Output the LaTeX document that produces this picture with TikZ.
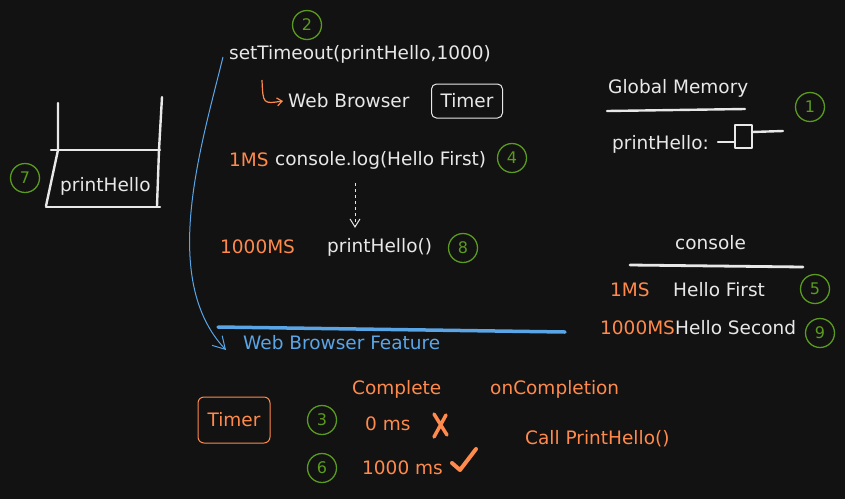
\documentclass[tikz,border=0pt]{standalone}
\usepackage{fontspec}
\setmainfont{DejaVu Sans}
\usetikzlibrary{arrows.meta,positioning,calc}
\definecolor{bgcolor}{HTML}{121212}
\definecolor{chalk}{HTML}{E8E8E8}
\definecolor{tangerine}{HTML}{FF8A4C}
\definecolor{moss}{HTML}{5A9A1E}
\definecolor{sky}{HTML}{5AA5E6}

\begin{document}
\begin{tikzpicture}[x=1pt,y=-1pt,
    txt/.style={text=chalk, font=\fontsize{18.5}{20}\selectfont, inner sep=0pt, anchor=west},
    hot/.style={txt, text=tangerine},
    badge/.style={circle, draw=moss, line width=1.3pt, minimum size=29pt, inner sep=0pt,
      text=moss, font=\fontsize{16}{18}\selectfont},
    pen/.style={chalk, line width=2.4pt, line cap=round, line join=round}]
    % Background
    \fill[bgcolor] (0,0) rectangle (845,499);
    \useasboundingbox (0,0) rectangle (845,499);
    % Call stack
    \draw[pen] (58,103) -- (58,150) -- (46,206);
    \draw[pen] (162,97) -- (159,150) -- (157,206);
    \draw[pen] (46,207) -- (160,207);
    \draw[pen] (51,150) -- (160,150);
    \node[txt] (stackfn) at (60,186) {printHello};
    \node[badge] (b7) at (25,178) {7};
    % Code lines
    \node[badge] (b2) at (307,25) {2};
    \node[txt] (settimeout) at (229,54) {setTimeout(printHello,1000)};
    \node[txt] (browser) at (288,101) {Web Browser};
    \node[txt, draw=chalk, line width=1pt, rounded corners=5pt, minimum width=71pt,
      minimum height=34pt, anchor=center, align=center] (timer) at (467,101) {Timer};
    \node[hot] (ms1) at (229,160) {1MS};
    \node[txt] (log) at (275,160) {console.log(Hello First)};
    \node[badge] (b4) at (512,158) {4};
    \node[hot] (ms1000) at (220,247) {1000MS};
    \node[txt] (call) at (327,247) {printHello()};
    \node[badge] (b8) at (463,248) {8};
    % Global memory
    \node[txt] (global) at (608,88) {Global Memory};
    \draw[pen] (607,111) -- (745,109);
    \node[badge] (b1) at (810,107) {1};
    \node[txt] (mem) at (612,144) {printHello:};
    \draw[pen] (718,142) -- (735,142);
    \draw[pen] (735,125) rectangle (752,148);
    \draw[pen] (752,132) -- (783,131);
    % Console
    \node[txt] (console) at (675,243) {console};
    \draw[pen, line width=2.8pt] (630,265) -- (803,267);
    \node[hot] (out1ms) at (610,290) {1MS};
    \node[txt] (out1) at (673,290) {Hello First};
    \node[badge] (b5) at (815,289) {5};
    \node[hot] (out2ms) at (600,328) {1000MS};
    \node[txt] (out2) at (675,328) {Hello Second};
    \node[badge] (b9) at (820,333) {9};
    % Web browser feature
    \draw[sky, line width=3.5pt, line cap=round] (218,327) -- (565,332);
    \node[txt, text=sky] (feature) at (243,343) {Web Browser Feature};
    \node[hot, draw=tangerine, line width=1pt, rounded corners=6pt, minimum width=72pt,
      minimum height=46pt, anchor=center] (webtimer) at (234,420) {Timer};
    \node[badge] (b3) at (322,420) {3};
    \node[badge] (b6) at (322,468) {6};
    \node[hot] (complete) at (352,389) {Complete};
    \node[hot] (oncomp) at (490,389) {onCompletion};
    \node[hot] (zero) at (365,424) {0 ms};
    \node[hot] (thousand) at (362,468) {1000 ms};
    \node[hot] (callback) at (525,439) {Call PrintHello()};
    \draw[tangerine, line width=3.5pt, line cap=round] (434,414) -- (447,435) (446,415) -- (434,437);
    \draw[tangerine, line width=4pt, line cap=round, line join=round] (452,463) -- (460,470) -- (476,449);
    % Arrows
    \coordinate (hook) at (262,80);
    \coordinate (drop) at (355,183);
    \coordinate (fork) at (223,57);
    \coordinate (land) at (226,350);
    \draw[tangerine, line width=1.2pt, -{Straight Barb[length=5pt,width=8pt]}]
      (hook) .. controls (263,104) .. ([xshift=-5pt]browser.west);
    \draw[chalk, line width=1pt, dashed, -{Straight Barb[length=8pt,width=10pt]}]
      (drop) -- ([yshift=10pt]call.north -| drop);
    \draw[sky, line width=1pt, -{Straight Barb[length=12pt,width=14pt]}]
      (fork) .. controls (200,150) and (160,280) .. (land);
\end{tikzpicture}
\end{document}
